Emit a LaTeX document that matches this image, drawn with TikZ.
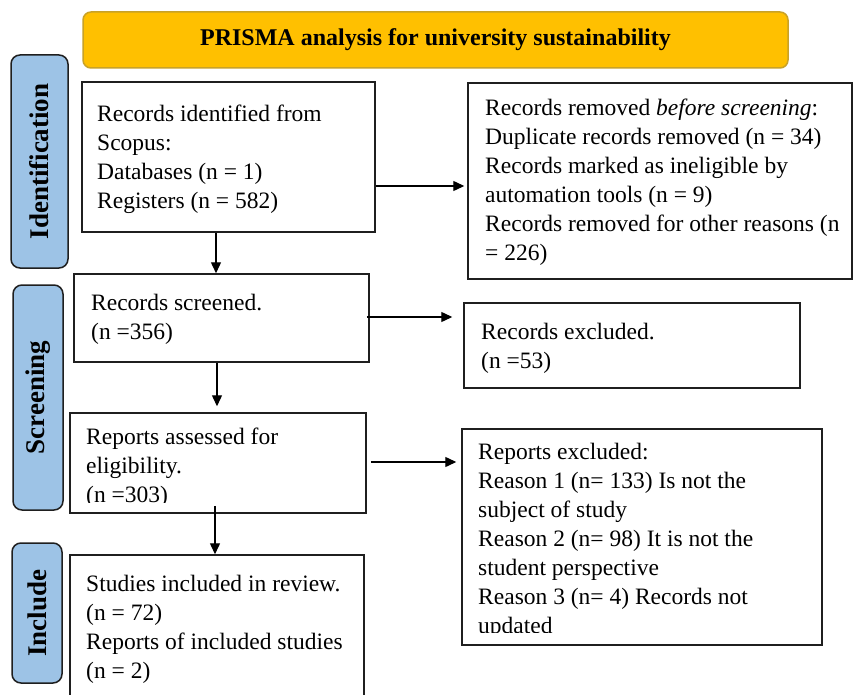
\documentclass[tikz,border=0pt]{standalone}
\usepackage{fontspec}
\setmainfont{Liberation Serif}
\usetikzlibrary{arrows.meta}
\definecolor{titlefill}{HTML}{FFC000}
\definecolor{titleborder}{HTML}{C9A227}
\definecolor{sidefill}{HTML}{9DC3E6}
\begin{document}
\begin{tikzpicture}[x=1pt,y=-1pt,
  box/.style={draw=black!88, line width=1.5pt, fill=white, inner sep=0pt},
  txt/.style={anchor=west, align=left, inner sep=0pt, font=\fontsize{23.5}{29}\selectfont},
  side/.style={draw=black!88, line width=1.5pt, fill=sidefill, rounded corners=9pt, rotate=90, inner sep=0pt, font=\fontsize{27}{30}\selectfont\bfseries},
  arr/.style={-{Triangle[length=11pt,width=10pt]}, line width=1.4pt}]
\clip (0,0) rectangle (853,695);
\fill[white] (0,0) rectangle (853,695);

% title
\node[draw=titleborder, fill=titlefill, line width=1.5pt, rounded corners=8pt,
      minimum width=705pt, minimum height=56pt, inner sep=0pt,
      font=\fontsize{24}{28}\selectfont\bfseries] (title) at (435.5,40)
      {PRISMA analysis for university sustainability};

% side labels
\node[side, minimum width=213pt, minimum height=57pt] (sid) at (39.5,161.5) {Identification};
\node[side, minimum width=225pt, minimum height=50pt] (ssc) at (38,397.5) {Screening};
\node[side, minimum width=140pt, minimum height=50pt] (sin) at (37,613) {Include};

% boxes
\node[box, minimum width=293pt, minimum height=150pt] (b1) at (228.5,157) {};
\node[box, minimum width=295pt, minimum height=88pt]  (b2) at (221.5,318) {};
\node[box, minimum width=296pt, minimum height=100pt] (b3) at (218,463) {};
\node[box, minimum width=294pt, minimum height=148pt] (b4) at (217,629) {};
\node[box, minimum width=384pt, minimum height=196pt] (r1) at (660,181) {};
\node[box, minimum width=336pt, minimum height=85pt]  (r2) at (632,345.5) {};
\node[box, minimum width=360pt, minimum height=216pt] (r3) at (642,537) {};

% texts
\node[txt] (t1) at (97,159) {Records identified from\\Scopus:\\Databases (n = 1)\\Registers (n = 582)};
\node[txt] (t2) at (91,319) {Records screened.\\(n =356)};
\begin{scope}
\clip (b3.north west) rectangle (b3.east |- 0,502);
\node[txt] (t3) at (86,468) {Reports assessed for\\eligibility.\\(n =303)};
\end{scope}
\node[txt] (t4) at (86,629) {Studies included in review.\\(n = 72)\\Reports of included studies\\(n = 2)};
\node[txt] (u1) at (485,182.5) {Records removed \textit{before screening}:\\Duplicate records removed (n = 34)\\Records marked as ineligible by\\automation tools (n = 9)\\Records removed for other reasons (n\\= 226)};
\node[txt] (u2) at (481,348) {Records excluded.\\(n =53)};
\begin{scope}
\clip (r3.north west) rectangle (r3.east |- 0,632);
\node[txt] (u3) at (478,540.5) {Reports excluded:\\Reason 1 (n= 133) Is not the\\subject of study\\Reason 2 (n= 98) It is not the\\student perspective\\Reason 3 (n= 4) Records not\\updated};
\end{scope}

% connectors
\draw[arr] ([xshift=-12.5pt]b1.south) -- ([xshift=-5.5pt]b2.north);
\draw[arr, shorten >=6pt] ([xshift=-4.5pt]b2.south) -- ([xshift=-1pt]b3.north);
\draw[arr, shorten <=-8pt] ([xshift=-3pt]b3.south) -- ([xshift=-2pt]b4.north);
\draw[arr, shorten >=3pt] ([yshift=-29pt]b1.east) -- ([yshift=-5pt]r1.west);
\draw[arr, shorten <=-3pt, shorten >=11pt] ([yshift=1pt]b2.east) -- ([yshift=28.5pt]r2.west);
\draw[arr, shorten <=4pt, shorten >=5pt] ([yshift=1pt]b3.east) -- ([yshift=75pt]r3.west);
\end{tikzpicture}
\end{document}
